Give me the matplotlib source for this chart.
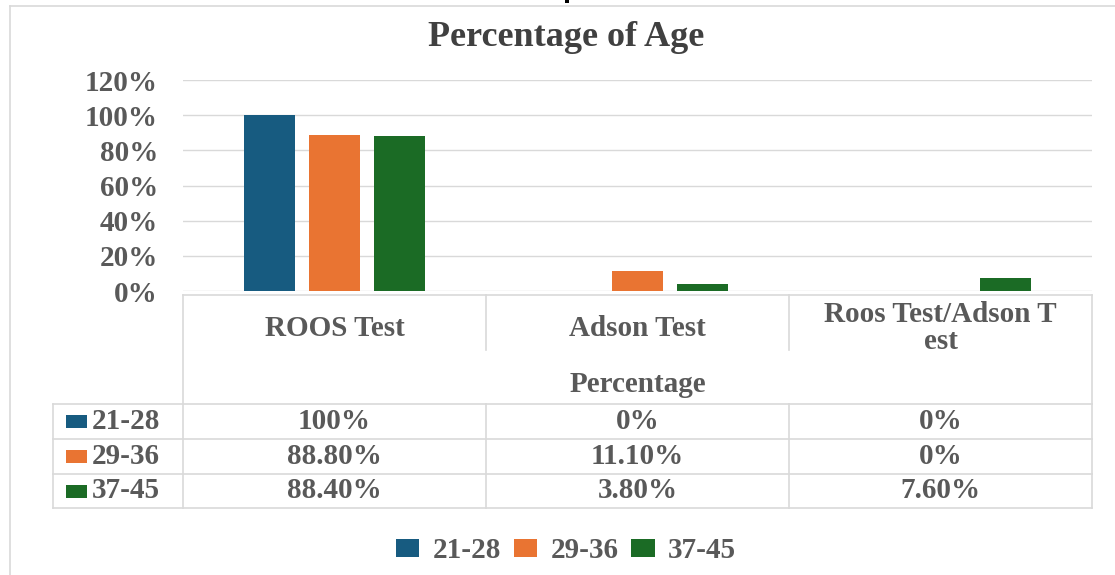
import numpy as np
import matplotlib
matplotlib.use('Agg')
import matplotlib.pyplot as plt
from matplotlib.patches import Rectangle

chart_title = 'Percentage of Age'
axis_title = 'Percentage'
categories = ['ROOS Test', 'Adson Test', 'Roos Test/Adson T\nest']
age_groups = ['21-28', '29-36', '37-45']
pct_21_28 = [100.0, 0.0, 0.0]
pct_29_36 = [88.8, 11.1, 0.0]
pct_37_45 = [88.4, 3.8, 7.6]
y_ticks = [0, 20, 40, 60, 80, 100, 120]

series = [pct_21_28, pct_29_36, pct_37_45]
colors = ['#175b80', '#e97432', '#1b6b25']
text_c = '#595959'
line_c = '#d9d9d9'
fs = 21


def fmt(v):
    # excel shows whole numbers without decimals, others with two
    if v == int(v):
        return '%d%%' % v
    return '%.2f%%' % v


plt.rcParams['font.family'] = ['Liberation Serif', 'DejaVu Serif']
plt.rcParams['font.weight'] = 'bold'

W, H = 1115, 575
fig = plt.figure(figsize=(W / 100, H / 100), dpi=100)

# plot area in pixels
left, right, top, bottom = 183, 1092, 80, 291
ax = fig.add_axes([left / W, 1 - bottom / H, (right - left) / W, (bottom - top) / H])
x = np.arange(len(categories))
offset = 0.2145
width = 0.168
bars = []
for k, vals in enumerate(series):
    b = ax.bar(x + (k - 1) * offset, vals, width, color=colors[k], label=age_groups[k], zorder=3)
    bars.append(b)
ax.set_xlim(-0.5, len(categories) - 0.5)
ax.set_ylim(0, 120)
ax.set_yticks(y_ticks)
ax.set_yticklabels(['%d%%' % t for t in y_ticks])
ax.set_xticks([])
ax.tick_params(axis='y', length=0, pad=18, labelsize=fs, labelcolor=text_c)
ax.yaxis.grid(True, color=line_c, lw=1, zorder=0)
for s in ax.spines.values():
    s.set_visible(False)

fig.text(566 / W, 1 - 37 / H, chart_title, fontsize=26, weight='bold', color='#404040',
         ha='center', va='center')

# overlay in pixel coords for the data table and frame
ov = fig.add_axes([0, 0, 1, 1])
ov.set_xlim(0, W)
ov.set_ylim(H, 0)
ov.axis('off')


def hline(y, x0, x1):
    ov.plot([x0, x1], [y, y], color=line_c, lw=1.2)


def vline(x0, y0, y1):
    ov.plot([x0, x0], [y0, y1], color=line_c, lw=1.2)


# chart frame (left and top edges)
hline(6, 10, W)
vline(10, 6, H)
# speck left over from the page above the chart
ov.add_patch(Rectangle((565, 0), 4, 3, color='black', lw=0))

cols = np.linspace(left, right, len(categories) + 1)
t_top, head_div, head_bot = 295, 350, 404
row_edges = [404, 439, 474, 508]
lab_left = 53

hline(t_top, left, right)
vline(left, t_top, row_edges[-1])
vline(right, t_top, row_edges[-1])
for c in cols[1:-1]:
    vline(c, t_top, head_div)
    vline(c, head_bot, row_edges[-1])
for y in row_edges:
    hline(y, lab_left, right)
vline(lab_left, row_edges[0], row_edges[-1])

for i, cat in enumerate(categories):
    cx = (cols[i] + cols[i + 1]) / 2
    ov.text(cx, 328, cat, fontsize=fs, color=text_c, ha='center', va='center', linespacing=1.0)
ov.text((left + right) / 2, 385, axis_title, fontsize=fs, color=text_c, ha='center', va='center')

for k, vals in enumerate(series):
    cy = (row_edges[k] + row_edges[k + 1]) / 2
    ov.add_patch(Rectangle((66, cy - 6.5), 21, 13, color=colors[k], lw=0))
    ov.text(92, cy, age_groups[k], fontsize=fs, color=text_c, ha='left', va='center')
    for i, v in enumerate(vals):
        cx = (cols[i] + cols[i + 1]) / 2
        ov.text(cx, cy, fmt(v), fontsize=fs, color=text_c, ha='center', va='center')

fig.legend(handles=bars, labels=age_groups, loc='center', bbox_to_anchor=(566 / W, 1 - 551 / H),
           ncol=3, frameon=False, prop={'size': fs, 'weight': 'bold'}, labelcolor=text_c,
           handlelength=0.8, handleheight=0.55, handletextpad=0.45, columnspacing=0.45)

fig.savefig('out.png', dpi=100, facecolor='white')
